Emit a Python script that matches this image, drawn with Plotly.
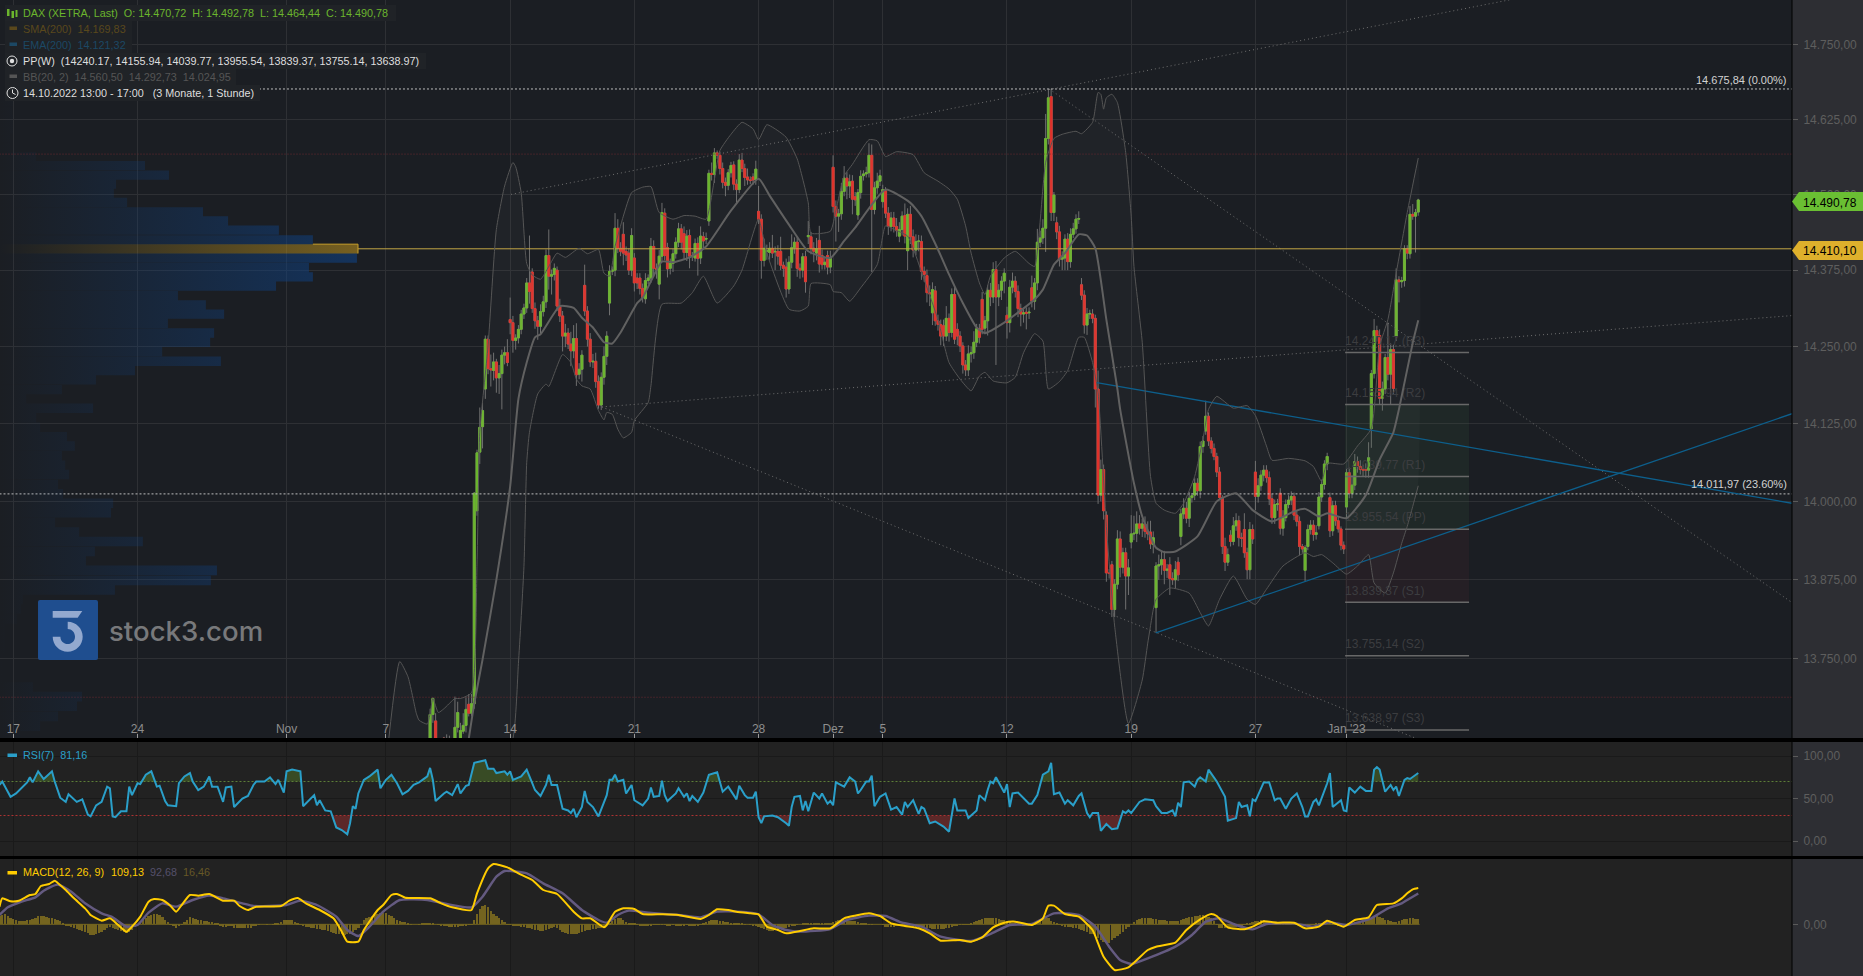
import plotly.graph_objects as go

W, H = 1863, 976
AX = 1792

# ---------- candles (first bar = index 151) ----------
first_bar = 151
opens = [
13620,13663,13653,13615,13610,13626,13625,13622,13618,13618,
13643,13625,13637,13646,13679,13665,13680,13985,14079,14120,
14181,14262,14214,14211,14225,14199,14206,14236,14240,14294,
14289,14260,14264,14278,14303,14313,14354,14372,14312,14292,
14283,14307,14323,14399,14365,14368,14375,14316,14300,14267,
14272,14254,14243,14263,14205,14213,14350,14308,14262,14225,
14226,14193,14155,14200,14234,14321,14373,14375,14444,14411,
14434,14406,14403,14375,14395,14362,14362,14345,14328,14358,
14362,14414,14378,14352,14398,14469,14412,14378,14386,14402,
14421,14443,14435,14404,14432,14398,14395,14419,14395,14430,
14426,14456,14535,14533,14569,14565,14543,14520,14515,14536,
14549,14517,14508,14557,14543,14529,14524,14529,14524,14472,
14459,14391,14406,14404,14411,14405,14406,14406,14383,14380,
14344,14388,14412,14421,14378,14375,14397,14430,14430,14411,
14403,14424,14399,14384,14399,14380,14545,14480,14464,14468,
14505,14527,14514,14522,14496,14466,14503,14531,14534,14536,
14565,14475,14511,14522,14488,14506,14469,14447,14461,14447,
14431,14442,14465,14407,14467,14430,14408,14422,14422,14373,
14366,14338,14305,14341,14292,14286,14284,14267,14296,14273,
14335,14278,14267,14251,14220,14212,14238,14240,14257,14279,
14327,14280,14292,14342,14331,14376,14331,14342,14357,14301,
14289,14347,14357,14340,14312,14303,14306,14305,14346,14324,
14354,14421,14428,14444,14593,14663,14470,14453,14438,14393,
14395,14426,14389,14434,14443,14459,14351,14334,14285,14303,
14303,14296,14181,14010,14051,13978,13886,13899,13828,13868,
13940,13895,13918,13881,13935,13948,13949,13964,13957,13964,
13952,13951,13931,13831,13897,13899,13907,13890,13899,13877,
13875,13903,13944,13980,13989,13973,14006,14010,14029,14017,
14088,14113,14137,14097,14085,14072,14047,14006,13928,13903,
13946,13936,13961,13969,13942,13955,13918,13891,13955,14047,
14008,14025,14042,14050,14038,14004,13974,13995,14013,13957,
13974,13995,14002,14008,13978,13968,13928,13890,13928,13955,
13962,13947,13961,14007,14027,14060,14006,13953,13993,13969,
13956,13930,13991,14046,14013,14026,14064,14056,14051,14051,
14050,14117,14206,14276,14268,14166,14181,14232,14205,14245,
14267,14359,14356,14358,14410,14402,14467,14464,14470.72]
closes = [
13663,13688,13615,13610,13612,13622,13620,13618,13620,13643,
13666,13638,13646,13671,13665,13680,14013,14078,14119,14146,
14262,14214,14212,14225,14199,14206,14236,14240,14224,14289,
14260,14264,14278,14303,14313,14354,14340,14312,14292,14283,
14307,14323,14399,14365,14368,14378,14316,14300,14267,14272,
14254,14243,14263,14204,14213,14236,14308,14262,14225,14226,
14193,14155,14200,14234,14267,14373,14375,14444,14411,14406,
14403,14400,14375,14432,14354,14354,14345,14330,14358,14362,
14414,14378,14376,14398,14470,14399,14377,14386,14402,14421,
14443,14421,14404,14431,14398,14399,14419,14394,14431,14423,
14427,14535,14533,14569,14565,14543,14520,14515,14536,14548,
14517,14508,14557,14543,14528,14524,14523,14524,14542,14459,
14391,14411,14407,14411,14403,14406,14398,14383,14378,14344,
14388,14412,14421,14378,14375,14397,14356,14432,14411,14406,
14410,14385,14384,14388,14380,14395,14480,14464,14468,14505,
14527,14514,14521,14492,14491,14503,14530,14534,14536,14565,
14475,14511,14522,14531,14508,14469,14447,14461,14447,14440,
14442,14464,14431,14467,14430,14408,14422,14423,14373,14368,
14338,14336,14343,14292,14286,14267,14267,14296,14273,14335,
14262,14267,14251,14220,14212,14238,14240,14257,14279,14265,
14278,14292,14342,14331,14376,14331,14342,14357,14370,14289,
14347,14357,14340,14312,14303,14305,14304,14306,14324,14354,
14421,14428,14444,14593,14661,14470,14499,14438,14393,14396,
14426,14389,14434,14443,14459,14460,14334,14285,14303,14304,
14296,14181,14010,14051,13985,13886,13885,13828,13868,13940,
13895,13918,13881,13894,13948,13949,13964,13957,13964,13952,
13948,13932,13942,13897,13899,13907,13890,13892,13877,13875,
13891,13883,13980,13989,13973,14005,14009,14029,14017,14088,
14097,14137,14097,14085,14072,14047,14006,13928,13903,13915,
13936,13961,13969,13942,13941,13918,13891,13955,13940,14008,
14025,14042,14050,14038,14004,13974,13995,13996,13957,13974,
13995,14002,14008,13978,13968,13928,13924,13926,13955,13962,
13947,13950,14007,14027,14060,14072,13953,13993,13969,13956,
13930,13924,14046,14013,14026,14064,14056,14051,14050,14050,
14070,14206,14276,14268,14166,14181,14232,14205,14245,14182,
14359,14356,14358,14410,14403,14467,14464,14470,14490.78]
wick_up = [
9,2,12,0,0,2,7,8,0,48,
17,12,19,19,16,15,2,5,32,13,
6,6,23,15,5,14,9,10,22,36,
11,6,7,7,7,8,78,6,10,8,
12,10,10,43,8,8,6,12,8,15,
8,20,22,25,10,8,34,8,10,12,
14,10,8,16,8,10,6,25,15,10,
20,8,8,12,8,8,8,8,12,6,
14,10,8,10,16,8,8,8,8,8,
10,8,12,10,10,6,8,10,16,8,
10,6,18,8,4,6,10,8,6,6,
6,8,10,12,8,14,6,6,14,42,
8,16,10,10,22,8,10,24,6,14,
10,22,8,10,8,6,10,24,8,10,
18,24,10,10,8,12,20,10,8,14,
20,10,12,10,8,6,10,6,10,20,
18,10,14,10,8,6,10,10,10,14,
12,8,20,10,14,12,12,10,10,8,
10,12,12,8,10,8,10,20,8,10,
12,10,8,6,8,14,10,18,8,8,
12,8,8,12,12,14,10,8,8,14,
12,14,8,10,8,6,8,8,20,8,
22,12,15,41,15,13,5,10,10,10,
8,10,10,10,8,12,11,8,10,6,
8,6,30,16,8,6,6,6,8,14,
12,8,8,14,30,28,20,14,8,12,
16,18,10,6,16,14,14,8,12,10,
14,8,8,16,10,10,4,8,8,8,
8,25,6,6,8,6,8,4,14,10,
8,14,12,8,8,26,8,12,8,18,
12,8,8,8,10,8,8,8,8,12,
8,8,8,6,8,8,4,4,8,8,
8,12,8,8,6,6,8,8,8,6,
4,6,6,8,16,12,8,10,8,10,
25,6,19,8,10,12,6,57,10,8,
19,6,6,6,6,14,17,6,2]
wick_down = [
20,13,15,5,5,3,5,4,5,8,
8,5,4,11,5,5,8,8,19,35,
16,9,27,16,24,26,58,15,6,19,
20,15,9,8,8,8,20,7,13,22,
12,8,10,22,30,10,8,10,25,18,
8,25,12,18,8,20,8,12,8,10,
10,6,8,12,14,20,6,10,8,8,
20,10,8,10,14,10,10,8,8,6,
8,14,15,25,8,8,14,10,14,8,
8,12,10,14,20,8,6,28,10,14,
8,8,10,14,6,10,10,18,8,8,
10,22,6,6,14,8,6,8,8,8,
30,10,14,12,8,30,14,8,14,14,
8,10,10,14,14,12,18,12,10,18,
12,14,8,8,12,10,10,42,26,10,
8,22,20,25,10,8,10,8,6,8,
103,8,10,8,10,8,14,8,10,10,
10,10,12,32,12,12,8,16,14,12,
16,20,20,8,10,15,16,8,15,8,
8,15,10,14,10,10,14,10,8,10,
8,10,24,15,10,111,15,16,20,26,
16,10,10,14,20,14,26,10,10,14,
12,8,10,39,10,14,14,12,12,18,
20,14,10,6,8,8,8,14,16,8,
8,30,14,10,14,14,8,12,12,8,
16,10,53,30,10,10,14,10,14,10,
10,8,14,40,22,16,22,12,26,8,
14,10,14,8,8,14,8,8,8,12,
10,6,8,8,6,8,4,12,14,6,
8,6,8,14,14,8,15,15,8,22,
10,8,10,8,10,10,10,10,10,12,
6,6,8,8,8,14,6,17,6,8,
10,8,6,8,8,10,10,8,8,6,
8,8,18,8,8,8,10,8,10,12,
12,31,8,10,10,20,8,10,49,10,
8,34,10,10,10,8,6,60,6]

# ---------- Bollinger bands ----------
bb_upper_x = [136,140,143,146,147,150,151,152,154,156,160,162,166,168,169,172,175,178,181,182,184,186,188,191,194,197,200,205,208,212,214,216,218,221,224,228,231,234,239,243,247,251,254,256,260,264,268,270,273,277,280,284,288,289,296,298,301,304,310,313,316,320,326,330,335,339,342,345,347,350,352,354,359,363,368,370,374,377,380,385,387,391,393,394,395,396,398,400,403,405,406,409,412,414,417,421,424,428,431,433,436,442,447,450,454,456,462,468,471,474,476,482,487,492,495,498,501,505,509]
bb_upper = [13624,13746,13722,13665,13654,13648,13665,13688,13666,13672,13688,13688,13697,13900,14111,14251,14442,14514,14553,14546,14503,14386,14367,14360,14381,14403,14396,14411,14402,14409,14370,14365,14414,14464,14503,14512,14513,14470,14459,14465,14464,14459,14525,14573,14600,14620,14609,14591,14616,14606,14595,14559,14486,14436,14439,14473,14531,14550,14591,14589,14563,14571,14566,14536,14522,14509,14492,14448,14403,14354,14335,14365,14395,14406,14386,14381,14553,14593,14600,14605,14601,14620,14670,14667,14642,14661,14667,14653,14570,14464,14381,14257,14040,13997,13986,13981,13997,14040,14100,14148,14169,14150,14154,14138,14089,14066,14069,14065,14056,14032,14061,14060,14089,14117,14251,14294,14370,14470,14560.5]
bb_mid_x = [165,167,170,175,180,183,186,189,191,198,203,206,210,214,217,220,226,228,235,239,245,251,260,270,274,281,288,296,301,305,316,325,329,335,339,344,349,352,359,370,373,377,381,386,389,392,396,400,401,406,409,414,417,421,429,436,443,449,456,464,468,473,476,483,490,495,500,502,507,509]
bb_mid = [13625,13680,13749,13875,14024,14165,14224,14265,14270,14316,14313,14297,14281,14257,14255,14273,14321,14330,14389,14388,14396,14414,14473,14526,14498,14450,14406,14395,14423,14445,14508,14486,14464,14409,14368,14321,14281,14272,14289,14327,14343,14384,14403,14434,14432,14411,14294,14181,14148,14029,13976,13926,13919,13920,13944,14000,14013,13986,13968,13984,13988,13976,13981,13973,14010,14067,14111,14148,14256,14292.73]
bb_lower_x = [136,165,181,183,185,186,187,190,193,194,199,202,204,206,209,212,214,215,217,219,221,224,225,230,231,235,242,246,250,255,261,264,270,273,281,285,288,289,296,297,300,303,307,313,316,319,324,330,335,339,343,347,350,352,355,360,363,366,370,373,375,379,382,386,388,391,393,396,399,404,409,411,413,414,419,426,430,433,437,442,447,450,454,460,468,471,474,478,483,487,491,493,497,500,503,505,507,509]
bb_lower = [13300,13450,13625,13743,13896,14062,14111,14173,14189,14185,14237,14224,14197,14186,14181,14146,14131,14143,14140,14116,14102,14111,14130,14159,14186,14319,14321,14338,14365,14321,14349,14375,14459,14403,14311,14308,14316,14353,14351,14340,14338,14324,14346,14384,14448,14442,14431,14359,14294,14224,14197,14178,14202,14208,14194,14191,14200,14240,14271,14259,14181,14193,14211,14265,14265,14224,14175,13960,13802,13649,13717,13775,13828,13844,13862,13854,13823,13802,13844,13881,13844,13836,13860,13897,13918,13912,13915,13902,13884,13897,13915,13870,13854,13886,13933,13960,13992,14024.95]

# ---------- RSI ----------
rsi_x = [-5,-4,-2,-1,1,3,5,6,7,9,11,12,14,15,17,19,20,23,25,27,28,30,32,34,35,36,37,39,41,42,43,45,46,48,50,52,53,55,56,59,60,62,64,65,67,69,71,72,74,76,77,79,80,83,85,87,88,91,93,95,96,98,99,101,104,105,108,109,110,111,113,115,117,119,121,122,123,124,125,127,129,132,133,135,137,139,141,143,145,147,150,151,152,153,156,157,159,161,162,164,165,167,171,172,174,175,178,179,180,181,184,186,188,189,191,193,194,195,197,199,201,202,203,204,206,207,208,210,212,215,216,217,218,219,221,222,224,225,228,230,231,232,234,235,236,237,240,241,243,244,245,246,248,
250,252,254,255,257,259,261,262,263,265,266,268,269,270,271,272,275,277,280,281,282,283,285,286,287,288,290,292,293,295,296,297,298,301,303,305,306,307,309,310,311,312,314,316,318,320,322,323,324,326,328,329,330,332,334,337,339,340,341,342,345,346,349,350,352,353,354,355,356,359,360,361,362,364,368,369,371,373,375,376,377,379,381,382,384,386,387,389,390,391,393,394,396,398,400,402,403,404,405,408,410,413,414,416,418,420,421,422,423,424,426,428,429,430,432,433,436,439,440,443,444,445,447,448,449,450,452,453,455,457,458,459,461,463,465,467,468,469,471,472,473,476,477,478,481,482,483,484,486,488,490,492,493,494,495,497,499,500,501,502,504,505,506,508,509]
rsi = [66,70,58,52,56,63,69,75,69,82,73,76,82,70,51,46,55,46,49,31,29,42,46,64,62,29,28,35,35,64,54,68,67,78,82,64,65,47,42,41,68,76,80,70,60,64,76,64,64,46,63,64,40,50,53,66,70,70,75,67,72,57,82,84,82,41,50,54,42,48,36,35,16,13,8,21,41,38,56,72,76,84,62,72,78,68,55,59,66,69,76,86,72,47,56,58,54,67,56,65,66,92,95,85,85,80,82,78,82,72,76,84,68,60,53,66,78,66,66,38,36,33,38,28,40,59,46,40,29,54,72,72,78,70,72,56,66,48,42,50,63,52,53,71,54,47,56,62,52,56,47,53,46,
57,78,80,81,58,64,54,49,65,54,51,51,58,28,21,29,30,28,21,18,40,52,53,36,47,35,57,50,56,44,47,42,69,64,75,70,56,60,70,70,77,41,52,56,37,40,31,46,40,48,32,40,38,21,23,17,11,30,50,36,36,27,36,54,48,60,70,68,75,57,67,40,56,57,44,44,54,78,82,92,55,57,44,48,42,53,56,33,28,33,33,12,20,14,15,35,33,36,33,46,49,48,41,33,33,36,29,45,40,69,70,64,72,75,70,84,70,52,24,27,46,40,42,29,49,47,62,69,69,48,50,50,38,50,56,40,29,29,46,49,42,68,80,40,48,36,35,63,57,64,59,59,84,87,84,58,66,60,64,53,72,74,73,78,80,81.16]

# ---------- MACD ----------
macd_x = [-5,-4,-1,2,6,8,10,13,15,16,19,22,26,28,32,35,38,41,43,46,49,51,54,57,59,61,64,67,71,76,80,82,85,88,97,100,103,106,111,116,119,121,125,127,132,134,137,139,142,151,155,159,166,168,172,174,179,183,188,192,197,203,206,209,214,215,218,221,225,228,235,241,249,252,255,259,262,267,270,273,277,280,285,290,296,301,305,310,314,318,323,328,332,336,343,347,351,355,359,363,369,373,375,377,381,386,391,393,395,399,404,411,414,421,425,430,434,436,440,446,449,453,458,464,468,473,476,482,486,491,494,500,503,505,507,509]
macd = [53,78,69,71,88,91,115,121,131,125,103,78,48,28,11,18,-2,-22,-7,23,68,76,73,55,38,58,88,86,91,71,71,55,43,53,55,71,79,63,43,18,-22,-52,-52,-17,43,58,88,91,80,78,63,51,43,93,168,181,171,153,133,103,91,38,18,18,-9,-2,38,48,46,31,30,28,16,28,45,43,38,33,30,-7,-17,-27,-20,-12,-12,18,26,33,25,3,-5,-12,-27,-49,-47,-52,-39,-9,5,8,-2,18,56,56,31,23,-17,-57,-97,-137,-129,-77,-67,-55,-17,15,31,25,-9,-15,-7,9,5,5,-12,-7,11,-7,13,21,58,63,78,93,105,109.13]
signal_x = [-5,-2,3,8,11,16,21,26,32,36,41,45,49,54,59,65,71,76,83,87,99,104,110,117,121,125,129,134,140,150,157,166,170,175,178,186,192,199,206,212,215,219,223,230,241,249,255,263,270,275,280,285,296,302,310,316,322,329,336,347,354,361,369,377,386,392,397,401,405,411,421,427,432,437,443,449,454,464,471,477,483,492,498,503,505,509]
signal = [28,51,68,81,101,119,98,63,33,21,-7,-2,35,63,53,73,86,78,63,55,58,71,58,23,-17,-35,-7,38,73,73,61,51,83,143,160,153,123,93,43,13,5,28,41,35,28,21,38,38,30,-2,-17,-22,-14,13,26,25,5,-7,-37,-50,-29,-2,1,33,28,-7,-67,-107,-119,-102,-67,-32,8,18,-2,-15,1,3,-7,6,-2,18,48,63,73,92.68]
hist_first = -5
hist = [
25,28,30,25,18,15,12,11,10,11,
12,14,16,20,24,25,25,22,20,18,
15,12,10,3,-3,-6,-9,-12,-15,-18,
-20,-24,-27,-31,-33,-30,-26,-22,-16,-12,
-8,-10,-14,-17,-20,-24,-25,-22,-18,-8,
0,6,12,18,25,28,32,32,28,22,
12,6,-2,-5,-12,-6,-1,8,14,22,
20,16,14,12,10,10,8,7,5,4,
-6,-8,-7,-5,-6,-10,-12,-12,-11,-12,
-12,-10,-5,-3,-1,0,0,-1,0,1,
3,5,8,12,14,14,12,8,5,-2,
-5,-7,-9,-11,-12,-13,-14,-16,-18,-20,
-22,-25,-28,-29,-30,-31,-30,-28,-24,-18,
-12,-2,12,18,22,25,27,30,34,35,
33,28,24,20,14,10,8,6,3,1,
0,0,1,2,3,3,3,2,0,-2,
-4,-5,-6,-7,-8,-8,-7,-6,-5,-4,
-2,-1,14,32,45,55,58,52,40,32,
25,18,12,6,1,-2,-3,-5,-6,-8,
-9,-10,-12,-14,-16,-18,-20,-20,-17,-13,
-10,-9,-12,-18,-22,-25,-28,-30,-30,-28,
-25,-22,-20,-18,-16,-15,-13,-12,-12,-6,
0,5,10,15,18,18,14,8,5,3,
2,-1,-3,-5,-5,-4,-3,-2,-2,-2,
-1,-2,-3,-3,-2,-3,-3,-4,-3,-2,
-3,-4,-4,-5,-2,2,6,9,12,14,
13,11,9,7,6,4,3,3,2,2,
1,0,-2,-4,-6,-9,-12,-15,-18,-20,
-20,-18,-16,-14,-12,-10,-7,-5,-3,-1,
0,2,3,4,5,5,5,5,4,4,
3,4,7,10,12,14,14,12,11,10,
9,7,4,3,2,1,1,0,0,0,
-2,-7,-8,-8,-7,-6,-5,-5,-5,-6,
-6,-7,-8,-8,-9,-10,-11,-12,-13,-14,
-15,-15,-14,-12,-10,-7,-5,-4,-2,-1,
-1,1,4,7,10,13,16,19,20,20,
20,18,15,14,12,9,7,5,4,2,
-1,-4,-3,-1,2,5,10,15,20,22,
18,10,8,2,-1,-4,-7,-8,-9,-10,
-12,-15,-18,-20,-24,-28,-30,-36,-42,-48,
-52,-55,-55,-48,-40,-34,-30,-22,-15,-8,
0,8,12,15,18,20,20,19,17,15,
14,13,12,11,11,10,10,10,14,17,
20,22,23,25,26,27,28,26,22,20,
10,-2,-10,-12,-11,-10,-8,-8,-7,-6,
-4,-2,2,5,8,10,11,12,12,10,
8,6,4,3,3,3,2,2,2,2,
1,0,-3,-5,-4,-2,1,3,5,5,
7,9,7,4,1,-3,-5,-5,-3,0,
4,6,8,8,9,11,14,18,22,25,
22,18,14,12,10,8,8,10,14,16,
16,18,18,17,16.46]

# ---------- volume profile ----------
profile_price = [14655,14639,14624,14609,14594,14578,14563,14548,14532,14517,14502,14487,14471,14456,14441,14425,
14410,14395,14379,14364,14349,14333,14318,14303,14288,14272,14257,14242,14226,14211,14196,14180,14165,14150,14135,14119,14104,14089,14073,14058,14043,14027,14012,13997,13982,13966,13951,13936,13920,13905,13890,13874,13859,13844,13829,13813,13798,13783,13767,13752,13737,13721,13706,13691,13676,13660,13645,13630]
profile_volume = [3.6,3.4,3.6,3.6,2.8,2.8,10,40.5,47.2,32.4,31.8,35.5,56.7,63.7,77.9,87.4,
100,99.7,86.3,87.4,77.1,49.7,57.5,62.6,46.9,59.8,58.7,45.3,61.7,37.7,26.8,17.3,7.3,26,10.1,11.2,18.7,20.9,17.3,18.2,19.3,16.2,17.6,31.6,31,15.4,22.1,39.9,26.5,24,60.6,58.9,32.1,6.4,5.9,4.7,1.4,1.4,1.4,0.6,0.6,0.6,9.2,22.9,21.5,16.2,11.2,5.6]
profile_half_step = 7.65
poc_price = 14410.10

# ---------- levels ----------
pivot_values = [14240.17, 14155.94, 14039.77, 13955.54, 13839.37, 13755.14, 13638.97]
pivot_labels = ["14.240,17 (R3)", "14.155,94 (R2)", "14.039,77 (R1)", "13.955,54 (PP)", "13.839,37 (S1)", "13.755,14 (S2)", "13.638,97 (S3)"]
pivot_start, pivot_end = 482.5, 527.4
fib_levels = [14675.84, 14011.97]
fib_labels = ["14.675,84 (0.00%)", "14.011,97 (23.60%)"]
red_levels = [14567, 13690]
rsi_levels = [70, 30]
trend_gray = [((180.3, 14500), (542, 14826)), ((213.2, 14152), (644.4, 14300.5)),
              ((213.2, 14152), (507.5, 13627)), ((375.3, 14675.84), (644.4, 13839))]
trend_blue = [((392.5, 14191.4), (644.4, 13997)), ((413.9, 13791), (644.4, 14141))]

# ---------- axes ----------
tick_pos = [0, 45, 99, 135, 180, 225, 270, 297, 315, 360, 405, 450, 483]
tick_txt = ["17", "24", "Nov", "7", "14", "21", "28", "Dez", "5", "12", "19", "27", "Jan '23"]
price_ticks = [14750, 14625, 14500, 14375, 14250, 14125, 14000, 13875, 13750]
price_txt = ["14.750,00", "14.625,00", "14.500,00", "14.375,00", "14.250,00", "14.125,00", "14.000,00", "13.875,00", "13.750,00"]

FONT = "Liberation Sans"
GREEN, RED, WICK = "#6bb52d", "#e0322b", "#6e6e6e"
BLUE, YEL, PUR = "#2a9fc9", "#ffcc00", "#645a80"
BBL, BBM = "#555555", "#616161"
SMOOTH = dict(shape="spline", smoothing=0.5)

fig = go.Figure()
bars_x = [first_bar + k for k in range(len(opens))]
highs = [max(o, c) + u for o, c, u in zip(opens, closes, wick_up)]
lows = [min(o, c) - d for o, c, d in zip(opens, closes, wick_down)]


def poly(xs, ys, color, **kw):
    fig.add_trace(go.Scatter(x=xs, y=ys, mode="lines", fill="toself", fillcolor=color,
                             line=dict(width=0), hoverinfo="skip", showlegend=False, **kw))


def line(xs, ys, color, width=1, dash=None, smooth=False, **kw):
    style = dict(color=color, width=width, dash=dash)
    if smooth:
        style.update(SMOOTH)
    fig.add_trace(go.Scatter(x=xs, y=ys, mode="lines", line=style, hoverinfo="skip", showlegend=False, **kw))


# pivot zones
poly([pivot_start, pivot_end, pivot_end, pivot_start], [pivot_values[1]] * 2 + [pivot_values[3]] * 2, "rgba(60,100,70,0.15)")
poly([pivot_start, pivot_end, pivot_end, pivot_start], [pivot_values[3]] * 2 + [pivot_values[4]] * 2, "rgba(100,45,50,0.14)")

# Bollinger fill
fig.add_trace(go.Scatter(x=bb_upper_x + bb_lower_x[::-1], y=bb_upper + bb_lower[::-1], mode="lines", fill="toself",
                         fillcolor="rgba(255,255,255,0.025)", line=dict(width=0, **SMOOTH), hoverinfo="skip", showlegend=False))

# level lines
for lv in red_levels:
    line([-5, 645], [lv, lv], "#6a2a30", 1, "1px,2px")
line([89, 645], [fib_levels[0]] * 2, "#bdbdbd", 1, "2px,2px")
line([-5, 645], [fib_levels[1]] * 2, "#bdbdbd", 1, "2px,2px")
for a, b in trend_gray:
    line([a[0], b[0]], [a[1], b[1]], "#707070", 1, "1px,3px")
for a, b in trend_blue:
    line([a[0], b[0]], [a[1], b[1]], "#0d5f8c", 1.3)
for v in pivot_values:
    line([pivot_start, pivot_end], [v, v], "#686868", 1.5)
fig.add_trace(go.Scatter(x=[pivot_start] * 7, y=[v + 7.6 for v in pivot_values], mode="text", text=pivot_labels, textposition="top right",
                         textfont=dict(family=FONT, size=12, color="#3c3d40"), hoverinfo="skip", showlegend=False))
line([124.9, 645], [poc_price, poc_price], "#c4a545", 1)

# candles: grey wick layer, coloured body layer
fig.add_trace(go.Candlestick(x=bars_x, open=opens, high=highs, low=lows, close=closes, whiskerwidth=0,
                             increasing=dict(line=dict(color=WICK, width=1), fillcolor=WICK),
                             decreasing=dict(line=dict(color=WICK, width=1), fillcolor=WICK),
                             hoverinfo="skip", showlegend=False))
fig.add_trace(go.Candlestick(x=bars_x, open=opens, close=closes,
                             high=[max(o, c) for o, c in zip(opens, closes)],
                             low=[min(o, c) for o, c in zip(opens, closes)], whiskerwidth=0,
                             increasing=dict(line=dict(color=GREEN, width=0.8), fillcolor=GREEN),
                             decreasing=dict(line=dict(color=RED, width=0.8), fillcolor=RED),
                             hoverinfo="skip", showlegend=False))

# Bollinger lines
line(bb_upper_x, bb_upper, BBL, 1, smooth=True)
line(bb_lower_x, bb_lower, BBL, 1, smooth=True)
line(bb_mid_x, bb_mid, BBM, 2, smooth=True)

# volume profile (drawn on its own value axis)
vx, vy = [], []
for p, v in zip(profile_price, profile_volume):
    if p == 14410:
        continue
    vx += [0, v, v, 0, 0, None]
    vy += [p + profile_half_step, p + profile_half_step, p - profile_half_step, p - profile_half_step, p + profile_half_step, None]
fig.add_trace(go.Scatter(x=vx, y=vy, xaxis="x4", yaxis="y", mode="lines", fill="toself", line=dict(width=0),
                         fillgradient=dict(type="horizontal", start=0, stop=100,
                                           colorscale=[[0, "rgba(15,65,130,0)"], [1, "rgba(15,65,130,0.6)"]]),
                         hoverinfo="skip", showlegend=False))
fig.add_trace(go.Scatter(x=[0, 100, 100, 0, 0], y=[poc_price + profile_half_step, poc_price + profile_half_step,
                                                   poc_price - profile_half_step, poc_price - profile_half_step, poc_price + profile_half_step],
                         xaxis="x4", yaxis="y", mode="lines", fill="toself", line=dict(width=0),
                         fillgradient=dict(type="horizontal", start=0, stop=100,
                                           colorscale=[[0, "rgba(180,140,30,0)"], [1, "rgba(180,140,30,0.6)"]]),
                         hoverinfo="skip", showlegend=False))
line([100, 100], [poc_price + profile_half_step, poc_price - profile_half_step], "#c9a02a", 1, xaxis="x4", yaxis="y")
line([87.4, 100], [poc_price + profile_half_step] * 2, "#c9a02a", 1, xaxis="x4", yaxis="y")


# RSI fills with crossings at the thresholds
def clipped(xs, ys, level, above):
    ox, oy = [xs[0]], [max(ys[0], level) if above else min(ys[0], level)]
    for i in range(1, len(xs)):
        a, b = ys[i - 1], ys[i]
        if (a - level) * (b - level) < 0:
            ox.append(xs[i - 1] + (xs[i] - xs[i - 1]) * (level - a) / (b - a))
            oy.append(level)
        ox.append(xs[i])
        oy.append(max(b, level) if above else min(b, level))
    return ox, oy


for lv, above, col in [(70, True, "rgba(75,110,40,0.55)"), (30, False, "rgba(150,45,45,0.5)")]:
    ox, oy = clipped(rsi_x, rsi, lv, above)
    line(ox, [lv] * len(ox), "rgba(0,0,0,0)", 0, xaxis="x2", yaxis="y2")
    fig.add_trace(go.Scatter(x=ox, y=oy, mode="lines", fill="tonexty", fillcolor=col, line=dict(width=0),
                             xaxis="x2", yaxis="y2", hoverinfo="skip", showlegend=False))
line([-5, 644.4], [70, 70], "#5e7f38", 1, "2px,2px", xaxis="x2", yaxis="y2")
line([-5, 644.4], [30, 30], "#b03333", 1, "2px,2px", xaxis="x2", yaxis="y2")
line(rsi_x, rsi, BLUE, 2, xaxis="x2", yaxis="y2")

# MACD
fig.add_trace(go.Bar(x=[hist_first + k for k in range(len(hist))], y=hist, width=0.85, xaxis="x3", yaxis="y3",
                     marker=dict(color="#74641f", line=dict(width=0)), hoverinfo="skip", showlegend=False))
line([-5, 509.5], [0, 0], "#74641f", 1, xaxis="x3", yaxis="y3")
line(signal_x, signal, PUR, 2.4, smooth=True, xaxis="x3", yaxis="y3")
line(macd_x, macd, YEL, 2, smooth=True, xaxis="x3", yaxis="y3")


# ---------- layout helpers ----------
def fx(p):
    return p / W


def fy(p):
    return 1 - p / H


def path(tokens):
    out = []
    for t in tokens:
        if isinstance(t, str):
            out.append(t)
        else:
            out.append(f"{fx(t[0]):.5f},{fy(t[1]):.5f}")
    return " ".join(out)


def rect(x0, y0, x1, y1, color, layer="below"):
    return dict(type="rect", xref="paper", yref="paper", x0=fx(x0), x1=fx(x1), y0=fy(y0), y1=fy(y1),
                fillcolor=color, line=dict(width=0), layer=layer)


def tag(y0, y1, color):
    m = (y0 + y1) / 2
    return dict(type="path", xref="paper", yref="paper", layer="above", fillcolor=color, line=dict(width=0),
                path=path(["M", (1792, m), "L", (1799, y0), "L", (W, y0), "L", (W, y1), "L", (1799, y1), "Z"]))


shapes = [
    rect(0, 0, AX, 738, "#1b1e23"),
    rect(0, 742, AX, 856, "#222222"),
    rect(0, 859, AX, H, "#222222"),
    # legend backgrounds
    rect(5, 5, 396, 21, "#202327", "above"),
    rect(5, 21, 132, 37, "#1f2226", "above"),
    rect(5, 37, 132, 53, "#1f2226", "above"),
    rect(5, 53, 426, 69, "#202327", "above"),
    rect(5, 69, 236, 85, "#202327", "above"),
    rect(5, 85, 260, 101, "#202327", "above"),
    # separators
    rect(0, 738, W, 742, "#000000", "above"),
    rect(0, 856, W, 859, "#000000", "above"),
    rect(AX - 0.5, 0, AX + 0.5, H, "#000000", "above"),
    tag(192, 211, "#6abf33"),
    tag(241, 260, "#deb02c"),
    # logo
    dict(type="path", xref="paper", yref="paper", layer="above", fillcolor="#1f4e8f", line=dict(width=0),
         path=path(["M", (40, 600), "L", (96, 600), "Q", (98, 600), (98, 602), "L", (98, 658), "Q", (98, 660), (96, 660),
                    "L", (40, 660), "Q", (38, 660), (38, 658), "L", (38, 602), "Q", (38, 600), (40, 600), "Z"])),
    dict(type="path", xref="paper", yref="paper", layer="above", fillcolor="#93a9cf", line=dict(width=0),
         path=path(["M", (52.7, 611), "L", (82.3, 611), "L", (77.7, 617.7), "L", (52.7, 617.7), "Z"])),
    dict(type="path", xref="paper", yref="paper", layer="above", fillcolor="#93a9cf", line=dict(width=0),
         path=path(["M", (52.7, 636.7), "C", (52.7, 645), (59.4, 651.7), (67.7, 651.7), "C", (76, 651.7), (82.7, 645), (82.7, 636.7),
                    "C", (82.7, 628.4), (76, 621.7), (67.7, 621.7), "L", (67.7, 629), "C", (71.7, 629), (75, 632.4), (75, 636.7),
                    "C", (75, 641), (71.7, 644), (67.7, 644), "C", (63.7, 644), (60.4, 641), (60.4, 636.7), "Z"])),
    # legend icons
    rect(9.5, 26.5, 17, 30, "#5a481c", "above"),
    rect(9.5, 42.5, 17, 46, "#1c4864", "above"),
    rect(9.5, 74.5, 17, 78, "#555555", "above"),
    rect(7.5, 753.5, 17, 757, BLUE, "above"),
    rect(7.5, 871, 17, 874.5, YEL, "above"),
    dict(type="circle", xref="paper", yref="paper", layer="above", x0=fx(7), x1=fx(17), y0=fy(66), y1=fy(56),
         line=dict(color="#e0e0e0", width=1), fillcolor="rgba(0,0,0,0)"),
    dict(type="circle", xref="paper", yref="paper", layer="above", x0=fx(9.8), x1=fx(14.2), y0=fy(63.2), y1=fy(58.8),
         line=dict(width=0), fillcolor="#e0e0e0"),
    dict(type="circle", xref="paper", yref="paper", layer="above", x0=fx(7), x1=fx(18), y0=fy(98.5), y1=fy(87.5),
         line=dict(color="#e0e0e0", width=1), fillcolor="rgba(0,0,0,0)"),
    dict(type="path", xref="paper", yref="paper", layer="above", line=dict(color="#e0e0e0", width=1),
         path=path(["M", (12.5, 89.5), "L", (12.5, 93), "L", (15.5, 94.5)])),
    # candlestick icon
    rect(7, 9, 9.5, 16, GREEN, "above"), rect(11.5, 11, 14, 18, GREEN, "above"), rect(15.5, 10, 17.5, 17, GREEN, "above"),
]

LEG = 10.8


def label(x, y, text, color, size=LEG, weight=None, family=FONT, xanchor="left"):
    return dict(xref="paper", yref="paper", x=fx(x), y=fy(y), text=text, showarrow=False, xanchor=xanchor, yanchor="middle",
                font=dict(family=family, size=size, color=color, weight=weight))


annotations = [
    label(21, 13, "DAX (XETRA, Last)&#160;&#160;O: 14.470,72&#160;&#160;H: 14.492,78&#160;&#160;L: 14.464,44&#160;&#160;C: 14.490,78", "#6bb52d"),
    label(21, 29, "SMA(200)&#160;&#160;14.169,83", "#5a481c"),
    label(21, 45, "EMA(200)&#160;&#160;14.121,32", "#1c4864"),
    label(21, 61, "PP(W)&#160;&#160;(14240.17, 14155.94, 14039.77, 13955.54, 13839.37, 13755.14, 13638.97)", "#dedede"),
    label(21, 77, "BB(20, 2)&#160;&#160;14.560,50&#160;&#160;14.292,73&#160;&#160;14.024,95", "#555555"),
    label(21, 93, "14.10.2022 13:00 - 17:00&#160;&#160;&#160;(3 Monate, 1 Stunde)", "#dedede"),
    label(21, 755, "RSI(7)&#160;&#160;81,16", BLUE),
    label(21, 872, "MACD(12, 26, 9)", YEL),
    label(109, 872, "109,13", YEL),
    label(148, 872, "92,68", "#55506a"),
    label(181, 872, "16,46", "#665826"),
    label(1801, 202.5, "14.490,78", "#000000", 12),
    label(1801, 251.5, "14.410,10", "#000000", 12),
    label(1789, 79.5, fib_labels[0], "#d2d2d2", 11, xanchor="right"),
    label(1789, 484, fib_labels[1], "#d2d2d2", 11, xanchor="right"),
    label(107, 631, "stock3.com", "#78797b", 27.6, 500, "Inter"),
]

xr = [-4.82, 644.4]
grid = "#2e3034"
dark = "#1a1a1a"
common_y = dict(side="right", ticks="outside", ticklen=5, tickcolor="#5a5a5a", tickfont=dict(family=FONT, size=12, color="#5e5e5e"),
                showline=False, zeroline=False, ticklabelstandoff=3)
fig.update_layout(
    width=W, height=H, margin=dict(l=0, r=0, t=0, b=0), autosize=False,
    paper_bgcolor="#2d2e33", plot_bgcolor="rgba(0,0,0,0)", showlegend=False, barmode="overlay", bargap=0,
    boxgap=0.25, boxgroupgap=0,
    shapes=shapes, annotations=annotations,
    font=dict(family=FONT),
    xaxis=dict(domain=[0, AX / W], range=xr, anchor="y", rangeslider=dict(visible=False), tickmode="array", tickvals=tick_pos,
               ticktext=tick_txt, ticks="inside", ticklen=4, tickcolor="#9a9a9a", ticklabelposition="inside", ticklabelstandoff=-2,
               tickfont=dict(family=FONT, size=12, color="#8e8e8e"), showgrid=True, gridcolor=grid, gridwidth=1, zeroline=False, showline=False),
    xaxis2=dict(domain=[0, AX / W], range=xr, anchor="y2", matches="x", tickmode="array", tickvals=tick_pos, showticklabels=False,
                showgrid=True, gridcolor=dark, zeroline=False),
    xaxis3=dict(domain=[0, AX / W], range=xr, anchor="y3", matches="x", tickmode="array", tickvals=tick_pos, showticklabels=False,
                showgrid=True, gridcolor=dark, zeroline=False),
    xaxis4=dict(domain=[0, AX / W], range=[0, 500.56], overlaying="x", anchor="y", visible=False, showgrid=False),
    yaxis=dict(domain=[1 - 738 / H, 1], type="log", range=[4.13438, 4.17102], anchor="x", tickmode="array", tickvals=price_ticks,
               ticktext=price_txt, showgrid=True, gridcolor=grid, **common_y),
    yaxis2=dict(domain=[1 - 856 / H, 1 - 742 / H], range=[-17.6, 116.5], anchor="x2", tickmode="array", tickvals=[0, 50, 100],
                ticktext=["0,00", "50,00", "100,00"], showgrid=True, gridcolor=dark, **common_y),
    yaxis3=dict(domain=[0, 1 - 859 / H], range=[-155, 196], anchor="x3", tickmode="array", tickvals=[0],
                ticktext=["0,00"], showgrid=False, **common_y),
)

fig.write_html("out.html", post_script="document.body.style.margin='0';document.body.style.background='#2d2e33';",
               config={"displayModeBar": False})
